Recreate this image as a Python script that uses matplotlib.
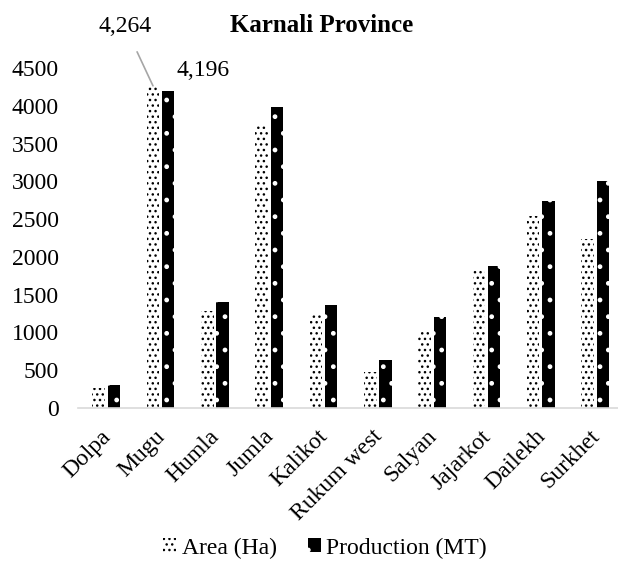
import matplotlib
matplotlib.use("Agg")
import matplotlib.pyplot as plt
import matplotlib.transforms as mtransforms
import numpy as np

districts = ["Dolpa", "Mugu", "Humla", "Jumla", "Kalikot", "Rukum west",
             "Salyan", "Jajarkot", "Dailekh", "Surkhet"]
area_ha = [260, 4264, 1280, 3730, 1230, 470, 1030, 1830, 2545, 2235]
production_mt = [305, 4196, 1400, 3985, 1360, 630, 1210, 1880, 2735, 3005]
yticks = [0, 500, 1000, 1500, 2000, 2500, 3000, 3500, 4000, 4500]

plt.rcParams['font.family'] = ['Liberation Serif', 'DejaVu Serif']
plt.rcParams['hatch.linewidth'] = 1.0

FS = 17
W, H = 618, 578
fig = plt.figure(figsize=(W/100, H/100), dpi=100)
ax = fig.add_axes([78/W, (H-408)/H, (618-78)/W, (408-68)/H])

x = np.arange(len(districts))
w = 0.23
off = 0.14
ax.bar(x - off, area_ha, w, facecolor='white', edgecolor='black', hatch='...',
       linewidth=0, label='Area (Ha)')
ax.bar(x + off, production_mt, w, facecolor='black', edgecolor='white', hatch='.',
       linewidth=0, label='Production (MT)')

ax.set_xlim(-0.52, 9.42)
ax.set_ylim(0, 4500)
ax.set_yticks(yticks)
ax.set_yticklabels([str(v) for v in yticks], fontsize=FS)
ax.set_xticks(x)
ax.set_xticklabels([])
ax.tick_params(axis='y', length=0, pad=14)
ax.tick_params(axis='x', length=0)
for s in ['top', 'right', 'left']:
    ax.spines[s].set_visible(False)
ax.spines['bottom'].set_color('#d9d9d9')
ax.spines['bottom'].set_linewidth(1.2)

# rotated category labels
lab_tr = ax.get_xaxis_transform() + mtransforms.ScaledTranslation(
    -6/100, -18/100, fig.dpi_scale_trans)
for xi, name in zip(x, districts):
    ax.text(xi, 0, name, transform=lab_tr, rotation=45, ha='right', va='top',
            rotation_mode='anchor', fontsize=FS, clip_on=False)

# data labels for Mugu
ax.annotate(f"{area_ha[1]:,}", xy=(1 - off, area_ha[1]), xytext=(125, H - 26),
            textcoords='figure pixels', fontsize=FS, ha='center', va='center',
            arrowprops=dict(arrowstyle='-', color='#a6a6a6', lw=1.2,
                            shrinkA=10, shrinkB=0), annotation_clip=False)
ax.annotate(f"{production_mt[1]:,}", xy=(1 + off, production_mt[1]), xytext=(203, H - 70),
            textcoords='figure pixels', fontsize=FS, ha='center', va='center',
            annotation_clip=False)

fig.text(322/W, 1 - 26/H, "Karnali Province", fontsize=18, fontweight='bold',
         ha='center', va='center')

fig.legend(loc='center', bbox_to_anchor=(325/W, 1 - 548/H), ncol=2, frameon=False,
           fontsize=FS, handlelength=0.55, handleheight=0.55, handletextpad=0.25,
           columnspacing=1.3)

fig.savefig("out.png", dpi=100)
